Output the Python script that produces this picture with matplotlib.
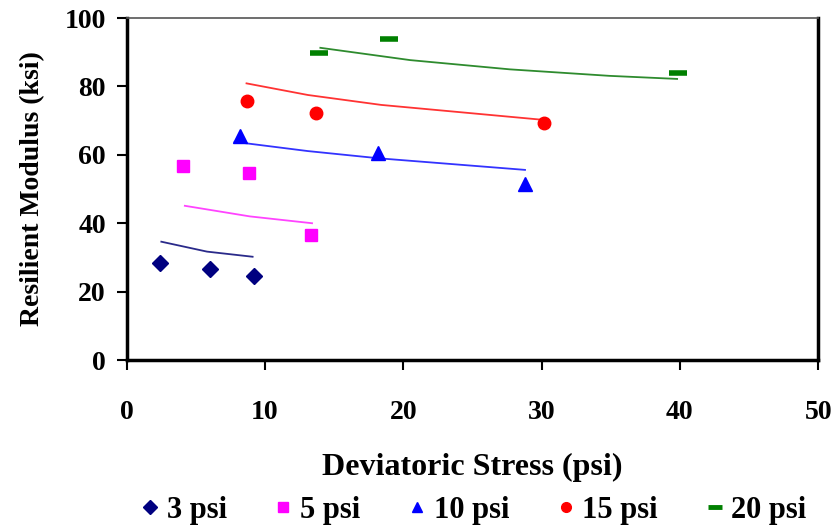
import matplotlib
matplotlib.use("Agg")
import matplotlib.pyplot as plt
from matplotlib.lines import Line2D

plt.rcParams['font.family'] = ['Liberation Serif', 'DejaVu Serif']
plt.rcParams['font.weight'] = 'bold'

labels = ["3 psi", "5 psi", "10 psi", "15 psi", "20 psi"]
colors = ["#000080", "#FF00FF", "#0000FF", "#FF0000", "#008000"]
line_colors = ["#2a2a8a", "#ff44ff", "#3333ff", "#ff3333", "#2e8b2e"]
markers = ["D", "s", "^", "o", "_"]
msizes = [8, 8, 10, 9, 13]

# measured points
x3 = [2.39, 6.05, 9.19];  y3 = [28.3, 26.6, 24.7]
x5 = [4.07, 8.85, 13.3];  y5 = [56.7, 54.6, 36.5]
x10 = [8.2, 18.2, 28.8];  y10 = [65.5, 60.5, 51.5]
x15 = [8.66, 13.7, 30.2]; y15 = [75.7, 72.3, 69.2]
x20 = [13.9, 19.0, 39.9]; y20 = [89.7, 93.9, 83.8]

# trend lines
tx3 = [2.5, 5.8, 9.1];           ty3 = [34.6, 31.7, 30.2]
tx5 = [4.2, 8.9, 13.4];          ty5 = [45.1, 42.0, 40.0]
tx10 = [7.8, 13.1, 18.2, 28.8];  ty10 = [63.8, 61.1, 59.0, 55.6]
tx15 = [8.66, 13.1, 18.4, 30.2]; ty15 = [80.9, 77.5, 74.6, 70.2]
tx20 = [14.0, 20.5, 27.7, 34.9, 39.8]; ty20 = [91.3, 87.7, 85.0, 83.1, 82.2]

xs = [x3, x5, x10, x15, x20]
ys = [y3, y5, y10, y15, y20]
txs = [tx3, tx5, tx10, tx15, tx20]
tys = [ty3, ty5, ty10, ty15, ty20]

fig = plt.figure(figsize=(8.34, 5.31), dpi=100)
ax = fig.add_axes([0.152, 0.322, 0.829, 0.644])

for i in range(5):
    ax.plot(txs[i], tys[i], color=line_colors[i], lw=1.3, zorder=2)
    if markers[i] == "_":
        ax.plot(xs[i], ys[i], linestyle='none', marker='_', ms=msizes[i],
                mew=4, color=colors[i], zorder=3)
    else:
        ax.plot(xs[i], ys[i], linestyle='none', marker=markers[i], ms=msizes[i],
                color=colors[i], mec=colors[i], zorder=3)

ax.set_xlim(0, 50)
ax.set_ylim(0, 100)
ax.set_xticks([0, 10, 20, 30, 40, 50])
ax.set_yticks([0, 20, 40, 60, 80, 100])
ax.tick_params(direction='out', length=7, width=1.5, labelsize=20)
ax.tick_params(axis='x', pad=22)
ax.tick_params(axis='y', pad=8)
for lab in ax.get_xticklabels() + ax.get_yticklabels():
    lab.set_fontweight('bold')
for s in ['left', 'bottom', 'right']:
    ax.spines[s].set_linewidth(2.5)
    ax.spines[s].set_color('black')
ax.spines['top'].set_linewidth(1.2)
ax.spines['top'].set_color('#555555')

ax.set_xlabel("Deviatoric Stress (psi)", fontsize=23, fontweight='bold', labelpad=20)
ax.set_ylabel("Resilient Modulus (ksi)", fontsize=20, fontweight='bold', labelpad=14)

handles = []
for i in range(5):
    if markers[i] == "_":
        handles.append(Line2D([], [], linestyle='none', marker='_', ms=10, mew=3.5, color=colors[i]))
    else:
        handles.append(Line2D([], [], linestyle='none', marker=markers[i], ms=7, color=colors[i]))
fig.legend(handles, labels, loc='lower center', bbox_to_anchor=(0.567, -0.04), ncol=5,
           frameon=False, prop={'size': 22, 'weight': 'bold'}, handletextpad=0.2,
           columnspacing=1.5, handlelength=0.7)

fig.savefig("out.png", dpi=100)
